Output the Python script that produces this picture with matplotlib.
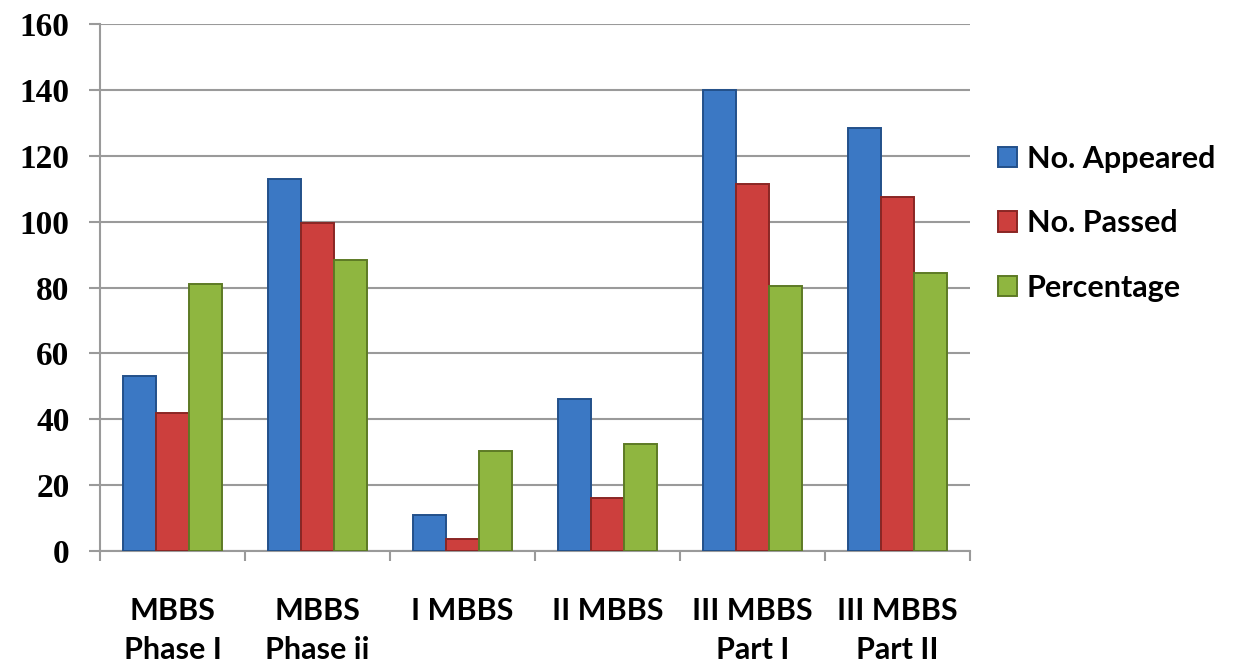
import numpy as np
import matplotlib
matplotlib.use("Agg")
import matplotlib.pyplot as plt

categories = ["MBBS\nPhase I", "MBBS\nPhase ii", "I MBBS", "II MBBS",
              "III MBBS\nPart I", "III MBBS\nPart II"]
appeared = [53, 113, 11, 46, 140, 128.5]
passed = [42, 99.5, 3.5, 16, 111.5, 107.5]
percentage = [81, 88.5, 30.5, 32.5, 80.5, 84.5]

series = ["No. Appeared", "No. Passed", "Percentage"]
colors = ["#3b78c4", "#cc3f3d", "#8fb640"]
edges = ["#23508a", "#8a2624", "#5d7a25"]
y_ticks = [0, 20, 40, 60, 80, 100, 120, 140, 160]

fig = plt.figure(figsize=(12.46, 6.69), dpi=100)
ax = fig.add_axes([100 / 1246, 118 / 669, 870 / 1246, 527 / 669])

x = np.arange(len(categories))
w = 0.228
for i, vals in enumerate([appeared, passed, percentage]):
    ax.bar(x + (i - 1) * w, vals, width=w, color=colors[i], edgecolor=edges[i],
           linewidth=1.4, label=series[i], zorder=3)

ax.set_xlim(-0.5, len(categories) - 0.5)
ax.set_ylim(0, 160)
ax.set_yticks(y_ticks)
ax.set_yticklabels([str(v) for v in y_ticks], family="Liberation Serif",
                   fontweight="bold", fontsize=24)
ax.yaxis.grid(True, color="#9a9a9a", linewidth=1.5, zorder=0)
ax.tick_params(axis="y", length=8, width=1.5, color="#9a9a9a", pad=14)

ax.set_xticks(x)
ax.set_xticklabels(categories, family="Lato", fontweight="bold", fontsize=22,
                   va="top", linespacing=1.5)
ax.set_xticks(np.arange(-0.5, len(categories)), minor=True)
ax.tick_params(axis="x", which="major", length=0, pad=33)
ax.tick_params(axis="x", which="minor", length=7, width=1.5, color="#9a9a9a")

for s in ["top", "right"]:
    ax.spines[s].set_visible(False)
for s in ["left", "bottom"]:
    ax.spines[s].set_color("#9a9a9a")
    ax.spines[s].set_linewidth(1.5)

leg = ax.legend(loc="center left", bbox_to_anchor=(1.0, 0.622), frameon=False,
                prop={"family": "Lato", "weight": "bold", "size": 22},
                handlelength=0.65, handleheight=0.65, handletextpad=0.3,
                labelspacing=1.2)

fig.savefig("out.png", dpi=100)
